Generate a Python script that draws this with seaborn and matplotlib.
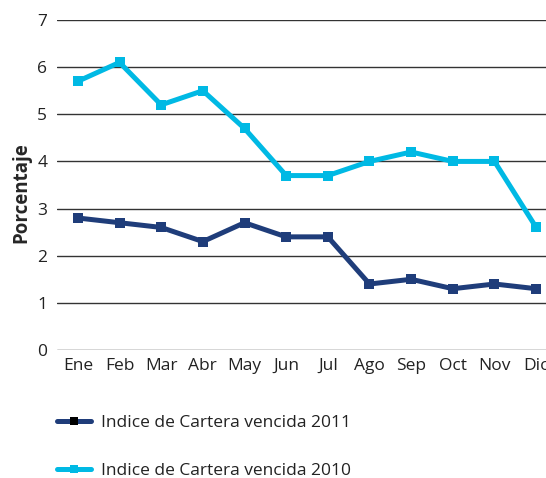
import pandas as pd
import seaborn as sns
import matplotlib.pyplot as plt
from matplotlib.lines import Line2D

# data
meses = ['Ene', 'Feb', 'Mar', 'Abr', 'May', 'Jun', 'Jul', 'Ago', 'Sep', 'Oct', 'Nov', 'Dic']
cartera_2011 = [2.8, 2.7, 2.6, 2.3, 2.7, 2.4, 2.4, 1.4, 1.5, 1.3, 1.4, 1.3]
cartera_2010 = [5.7, 6.1, 5.2, 5.5, 4.7, 3.7, 3.7, 4.0, 4.2, 4.0, 4.0, 2.6]
etiqueta_2011 = 'Indice de Cartera vencida 2011'
etiqueta_2010 = 'Indice de Cartera vencida 2010'

azul = '#1f3d7a'
cian = '#00b9e4'

df = pd.DataFrame({
    'mes': meses * 2,
    'valor': cartera_2011 + cartera_2010,
    'serie': [etiqueta_2011] * 12 + [etiqueta_2010] * 12,
})

sns.set_style('white')
plt.rcParams['font.family'] = ['Open Sans', 'DejaVu Sans']

fig = plt.figure(figsize=(5.46, 4.78), dpi=100)
ax = fig.add_axes([57 / 546, 1 - 350 / 478, 500 / 546, 330 / 478])

sns.lineplot(data=df, x='mes', y='valor', hue='serie',
             palette={etiqueta_2011: azul, etiqueta_2010: cian},
             marker='s', markersize=7, markeredgewidth=0, linewidth=3.6,
             sort=False, legend=False, ax=ax)

ax.set_ylim(0, 7)
ax.set_xlim(-0.5, 11.5)
ax.set_yticks(range(8))
ax.grid(axis='y', color='#333333', linewidth=1)
ax.grid(axis='x', visible=False)
for s in ax.spines.values():
    s.set_visible(False)
ax.tick_params(axis='both', length=0, labelsize=12.5, colors='#222222')
ax.tick_params(axis='y', pad=7)
ax.tick_params(axis='x', pad=6)
ax.set_xlabel('')
ax.set_ylabel('Porcentaje', fontsize=13.5, fontweight='bold', labelpad=4)
ax.yaxis.label.set_y(0.476)

handles = [
    Line2D([], [], color=azul, linewidth=3.6, marker='s', markersize=6,
           markerfacecolor='black', markeredgewidth=0),
    Line2D([], [], color=cian, linewidth=3.6, marker='s', markersize=6,
           markeredgewidth=0),
]
fig.legend(handles, [etiqueta_2011, etiqueta_2010], loc='upper left',
           bbox_to_anchor=(41 / 546, 1 - 399 / 478), frameon=False,
           fontsize=12.5, labelspacing=1.83, handlelength=2.0, handletextpad=0.57,
           labelcolor='#222222')

fig.savefig('out.png', dpi=100)
